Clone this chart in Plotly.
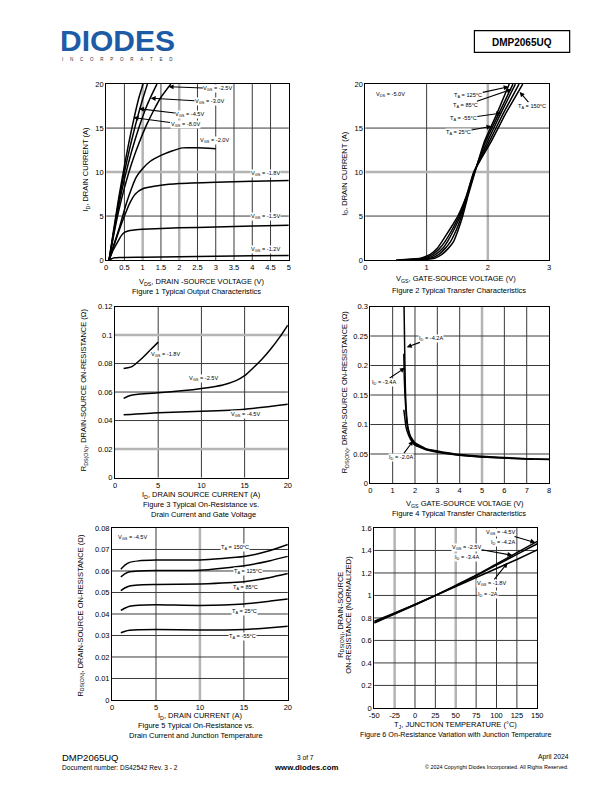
import plotly.graph_objects as go

PW, PH = 612, 792
FONT = "Liberation Sans, Arial, Helvetica, sans-serif"
GRID = "#3a3a3a"
GRAY = "#b4b4b4"

# ---------------- Figure 1: Typical Output Characteristics ----------------
f1_vds_8v0 = [0.08, 0.2, 0.35, 0.5, 0.6, 0.7, 0.8, 0.9, 1.01]
f1_id_8v0 = [0, 3.3, 7.2, 10.7, 12.9, 14.9, 16.8, 18.5, 20]
f1_vds_4v5 = [0.08, 0.2, 0.35, 0.5, 0.65, 0.8, 0.95, 1.13]
f1_id_4v5 = [0, 3.1, 6.8, 10.0, 12.8, 15.3, 17.6, 20]
f1_vds_3v0 = [0.08, 0.2, 0.35, 0.5, 0.7, 0.9, 1.1, 1.25, 1.39]
f1_id_3v0 = [0, 2.9, 6.3, 9.2, 12.4, 15.1, 17.4, 18.8, 20]
f1_vds_2v5 = [0.08, 0.2, 0.35, 0.5, 0.7, 0.9, 1.1, 1.3, 1.5, 1.77]
f1_id_2v5 = [0, 2.7, 5.7, 8.2, 11.0, 13.3, 15.3, 17.0, 18.5, 20]
f1_vds_2v0 = [0.08, 0.2, 0.37, 0.55, 0.7, 0.82, 1.0, 1.2, 1.5, 1.8, 2.1, 2.5, 3.0]
f1_id_2v0 = [0, 1.6, 3.8, 6.4, 8.2, 9.4, 10.4, 11.2, 11.9, 12.4, 12.75, 12.75, 12.65]
f1_vds_1v8 = [0.08, 0.2, 0.35, 0.5, 0.65, 0.8, 1.0, 1.5, 2.0, 3.0, 4.0, 5.0]
f1_id_1v8 = [0, 1.5, 3.3, 5.0, 6.5, 7.5, 8.1, 8.5, 8.7, 8.85, 8.95, 9.05]
f1_vds_1v5 = [0.08, 0.2, 0.32, 0.42, 0.5, 0.65, 0.82, 1.0, 2.0, 3.0, 4.0, 5.0]
f1_id_1v5 = [0, 1.2, 2.1, 2.8, 3.15, 3.35, 3.45, 3.5, 3.66, 3.76, 3.86, 3.95]
f1_vds_1v2 = [0.08, 0.15, 0.23, 0.35, 1.0, 2.0, 3.0, 4.0, 5.0]
f1_id_1v2 = [0, 0.15, 0.26, 0.3, 0.33, 0.38, 0.43, 0.48, 0.52]

# ---------------- Figure 2: Typical Transfer Characteristics ----------------
f2_id_levels = [0, 0.2, 0.64, 1.3, 2.1, 3.5, 5.0, 7.4, 10.0, 13.4, 16.5, 20]
f2_vgs_m55 = [0.8, 1.13, 1.25, 1.35, 1.44, 1.52, 1.59, 1.68, 1.79, 1.94, 2.14, 2.35]
f2_vgs_25 = [0.7, 1.07, 1.2, 1.3, 1.39, 1.49, 1.57, 1.67, 1.785, 1.96, 2.17, 2.41]
f2_vgs_85 = [0.6, 1.01, 1.15, 1.26, 1.34, 1.45, 1.55, 1.665, 1.78, 1.99, 2.2, 2.45]
f2_vgs_125 = [0.55, 0.95, 1.1, 1.21, 1.3, 1.42, 1.53, 1.66, 1.775, 2.02, 2.24, 2.51]
f2_vgs_150 = [0.5, 0.9, 1.06, 1.17, 1.25, 1.38, 1.51, 1.655, 1.77, 2.05, 2.28, 2.57]

# ---------------- Figure 3: On-Resistance vs Drain Current & Gate Voltage ----------------
f3_id_1v8 = [1, 1.5, 2, 3, 4, 5]
f3_r_1v8 = [0.0765, 0.077, 0.078, 0.083, 0.089, 0.095]
f3_id_2v5 = [1, 1.5, 2, 5, 8, 10, 12.5, 14, 15, 16, 17, 18, 19, 20]
f3_r_2v5 = [0.0555, 0.057, 0.058, 0.0595, 0.061, 0.0625, 0.065, 0.068, 0.0715, 0.077, 0.083, 0.090, 0.098, 0.107]
f3_id_4v5 = [1, 5, 10, 15, 20]
f3_r_4v5 = [0.044, 0.0455, 0.0465, 0.048, 0.0515]

# ---------------- Figure 4: RDS(ON) vs Gate-Source Voltage ----------------
f4_vgs_4a2 = [1.51, 1.53, 1.55, 1.57, 1.6, 1.65, 1.7, 1.8, 2.0, 2.5, 3, 4, 5, 6, 7, 8]
f4_r_4a2 = [0.3, 0.25, 0.2, 0.16, 0.13, 0.105, 0.092, 0.08, 0.069, 0.059, 0.055, 0.049, 0.046, 0.044, 0.042, 0.041]
f4_vgs_3a4 = [1.5, 1.52, 1.55, 1.6, 1.65, 1.7, 1.8, 2.0, 2.5, 3, 4, 5, 6, 7, 8]
f4_r_3a4 = [0.22, 0.18, 0.15, 0.12, 0.1, 0.09, 0.078, 0.067, 0.058, 0.054, 0.048, 0.045, 0.043, 0.0415, 0.0405]
f4_vgs_2a0 = [1.5, 1.55, 1.6, 1.7, 1.8, 2.0, 2.5, 3, 4, 5, 6, 7, 7.3]
f4_r_2a0 = [0.125, 0.11, 0.095, 0.083, 0.075, 0.065, 0.057, 0.053, 0.048, 0.045, 0.043, 0.042, 0.0415]

# ---------------- Figure 5: On-Resistance vs Drain Current & Temperature ----------------
f5_id = [1, 1.5, 2, 3, 5, 10, 15, 18, 20]
f5_r_150 = [0.0608, 0.0628, 0.0640, 0.0647, 0.0651, 0.0651, 0.0667, 0.0695, 0.0723]
f5_r_125 = [0.0573, 0.0588, 0.0596, 0.0600, 0.0602, 0.0603, 0.0624, 0.0648, 0.0668]
f5_r_85 = [0.0509, 0.0522, 0.0530, 0.0535, 0.0537, 0.0540, 0.0550, 0.0570, 0.0588]
f5_r_25 = [0.0417, 0.0428, 0.0436, 0.0441, 0.0443, 0.0440, 0.0447, 0.0460, 0.0470]
f5_r_m55 = [0.0313, 0.0320, 0.0324, 0.0327, 0.0328, 0.0325, 0.0328, 0.0336, 0.0343]

# ---------------- Figure 6: Normalized On-Resistance vs Junction Temperature ----------------
f6_tj = [-50, -25, 0, 25, 50, 75, 100, 125, 150]
f6_r_4v5 = [0.755, 0.835, 0.915, 1.0, 1.09, 1.18, 1.28, 1.38, 1.48]
f6_r_2v5 = [0.76, 0.84, 0.92, 1.0, 1.085, 1.175, 1.27, 1.365, 1.46]
f6_r_1v8 = [0.77, 0.845, 0.92, 1.0, 1.08, 1.16, 1.24, 1.32, 1.405]
f6_xtick_vals = [-50, -25, 0, 25, 50, 75, 100, 125, 150]
f6_xtick_text = ["-50", "-25", "0", "25", "50", "75", "100", "125", "150"]

fig = go.Figure()


def ax_ids(n):
    s = "" if n == 1 else str(n)
    return "x" + s, "y" + s


def curve(n, x, y, smooth=0.5):
    xa, ya = ax_ids(n)
    fig.add_trace(go.Scatter(
        x=x, y=y, mode="lines", xaxis=xa, yaxis=ya, showlegend=False,
        hoverinfo="skip",
        line=dict(color="black", width=1.5, shape="spline", smoothing=smooth)))


for xs, ys in [(f1_vds_8v0, f1_id_8v0), (f1_vds_4v5, f1_id_4v5), (f1_vds_3v0, f1_id_3v0),
               (f1_vds_2v5, f1_id_2v5), (f1_vds_2v0, f1_id_2v0), (f1_vds_1v8, f1_id_1v8),
               (f1_vds_1v5, f1_id_1v5), (f1_vds_1v2, f1_id_1v2)]:
    curve(1, xs, ys)

for vs in [f2_vgs_m55, f2_vgs_25, f2_vgs_85, f2_vgs_125, f2_vgs_150]:
    curve(2, vs, f2_id_levels, 0.4)

for xs, ys in [(f3_id_1v8, f3_r_1v8), (f3_id_2v5, f3_r_2v5), (f3_id_4v5, f3_r_4v5)]:
    curve(3, xs, ys)

for xs, ys in [(f4_vgs_4a2, f4_r_4a2), (f4_vgs_3a4, f4_r_3a4), (f4_vgs_2a0, f4_r_2a0)]:
    curve(4, xs, ys, 0.3)

for ys in [f5_r_150, f5_r_125, f5_r_85, f5_r_25, f5_r_m55]:
    curve(5, f5_id, ys)

for ys in [f6_r_4v5, f6_r_2v5, f6_r_1v8]:
    curve(6, f6_tj, ys)


# ---------------- axes ----------------
panels = {
    1: dict(xpx=(103, 289), ypx=(81, 259), xr=[0, 5], xd=0.5, yr=[0, 20], yd=5),
    2: dict(xpx=(367, 554), ypx=(81, 259), xr=[0, 3], xd=1, yr=[0, 20], yd=5),
    3: dict(xpx=(112, 288), ypx=(306, 479), xr=[0, 20], xd=5, yr=[0, 0.12], yd=0.02),
    4: dict(xpx=(372, 554), ypx=(306, 485), xr=[0, 8], xd=1, yr=[0, 0.3], yd=0.05),
    5: dict(xpx=(109, 288), ypx=(530, 704), xr=[0, 20], xd=5, yr=[0, 0.08], yd=0.01),
    6: dict(xpx=(376, 542), ypx=(530, 712), xr=[-50, 150], xd=25, yr=[0, 1.6], yd=0.2),
}

# grid lines drawn lighter/thicker in the datasheet
gray_v = {1: [1, 2], 2: [2], 4: [5], 5: [10], 6: [-25, 50]}
gray_h = {1: [10], 2: [10], 3: [0.1, 0.02]}

layout_axes = {}
shapes = []
for n, p in panels.items():
    s = "" if n == 1 else str(n)
    xa, ya = ax_ids(n)
    common = dict(showgrid=False, showline=True, mirror=True,
                  linecolor="black", linewidth=1, ticks="", zeroline=False,
                  tickfont=dict(family=FONT, size=7.5, color="black"), fixedrange=True)
    layout_axes["xaxis" + s] = dict(
        domain=[p["xpx"][0] / PW, p["xpx"][1] / PW], range=p["xr"], dtick=p["xd"],
        tick0=p["xr"][0], anchor="y" + s, **common)
    layout_axes["yaxis" + s] = dict(
        domain=[1 - p["ypx"][1] / PH, 1 - p["ypx"][0] / PH], range=p["yr"], dtick=p["yd"],
        tick0=0, anchor="x" + s, **common)
    k = 1
    while True:
        v = round(p["xr"][0] + k * p["xd"], 6)
        if v >= p["xr"][1] - 1e-9:
            break
        g = v in gray_v.get(n, [])
        shapes.append(dict(type="line", xref=xa, yref=ya + " domain", x0=v, x1=v, y0=0, y1=1,
                           line=dict(color=GRAY if g else GRID, width=2.5 if g else 1),
                           layer="below"))
        k += 1
    k = 1
    while True:
        v = round(p["yr"][0] + k * p["yd"], 6)
        if v >= p["yr"][1] - 1e-9:
            break
        g = v in gray_h.get(n, [])
        shapes.append(dict(type="line", xref=xa + " domain", yref=ya, x0=0, x1=1, y0=v, y1=v,
                           line=dict(color=GRAY if g else GRID, width=2.5 if g else 1),
                           layer="below"))
        k += 1

layout_axes["xaxis6"].update(tickmode="array", tickvals=f6_xtick_vals, ticktext=f6_xtick_text)

annotations = []


def P(px, py):
    return px / PW, 1 - py / PH


def ptext(px, py, text, size=7.5, anchor="center", bold=False, color="black", angle=0):
    x, y = P(px, py)
    t = "<b>%s</b>" % text if bold else text
    annotations.append(dict(xref="paper", yref="paper", x=x, y=y, text=t, showarrow=False,
                            xanchor=anchor, yanchor="middle", textangle=angle, borderpad=0,
                            font=dict(family=FONT, size=size, color=color)))


def label(n, x, y, text, head=None, size=5.6):
    xa, ya = ax_ids(n)
    a = dict(xref=xa, yref=ya, text=text, font=dict(family=FONT, size=size, color="black"),
             bgcolor="white", borderpad=0)
    if head is None:
        a.update(x=x, y=y, showarrow=False)
    else:
        a.update(x=head[0], y=head[1], ax=x, ay=y, axref=xa, ayref=ya, showarrow=True,
                 arrowhead=2, arrowsize=0.9, arrowwidth=1.1, arrowcolor="black")
    annotations.append(a)


VGS = "V<sub>GS</sub> = "
TA = "T<sub>A</sub> = "
IDL = "I<sub>D</sub> = "

label(1, 3.06, 19.5, VGS + "-2.5V", head=(1.71, 19.7))
label(1, 2.83, 18.0, VGS + "-3.0V", head=(1.22, 18.4))
label(1, 2.29, 16.5, VGS + "-4.5V", head=(0.90, 17.2))
label(1, 2.16, 15.4, VGS + "-8.0V", head=(0.75, 16.2))
label(1, 2.97, 13.6, VGS + "-2.0V")
label(1, 4.35, 9.8, VGS + "-1.8V")
label(1, 4.35, 4.9, VGS + "-1.5V")
label(1, 4.35, 1.2, VGS + "-1.2V")

label(2, 0.41, 18.8, "V<sub>DS</sub> = -5.0V")
label(2, 1.68, 18.7, TA + "125°C", head=(2.34, 19.7))
label(2, 1.63, 17.6, TA + "85°C", head=(2.39, 19.4))
label(2, 1.60, 16.1, TA + "-55°C", head=(2.22, 16.7))
label(2, 1.52, 14.5, TA + "25°C", head=(2.06, 15.2))
label(2, 2.72, 17.5, TA + "150°C", head=(2.52, 19.1))

label(3, 5.85, 0.086, VGS + "-1.8V")
label(3, 10.25, 0.0692, VGS + "-2.5V")
label(3, 15.1, 0.0439, VGS + "-4.5V")

label(4, 2.70, 0.246, IDL + "-4.2A", head=(1.63, 0.231))
label(4, 0.60, 0.172, IDL + "-3.4A", head=(1.55, 0.196))
label(4, 1.38, 0.0447, IDL + "-2.0A", head=(1.92, 0.0726))

label(5, 2.38, 0.0754, VGS + "-4.5V")
label(5, 13.97, 0.0708, TA + "150°C")
label(5, 15.5, 0.0596, TA + "125°C")
label(5, 15.2, 0.0521, TA + "85°C")
label(5, 15.05, 0.0412, TA + "25°C")
label(5, 14.86, 0.0294, TA + "-55°C")

label(6, 105.4, 1.56, VGS + "-4.5V", head=(147.6, 1.47))
label(6, 107.4, 1.47, IDL + "-4.2A")
label(6, 63.3, 1.43, VGS + "-2.5V", head=(119.5, 1.357))
label(6, 63.3, 1.34, IDL + "-3.4A")
label(6, 93.4, 1.108, VGS + "-1.8V", head=(113.5, 1.29))
label(6, 89.4, 1.005, IDL + "-2A")

RDS = "R<sub>DS(ON)</sub>, DRAIN-SOURCE ON-RESISTANCE (Ω)"
ptext(200, 280.7, "V<sub>DS</sub>, DRAIN -SOURCE VOLTAGE (V)")
ptext(195, 290.5, "Figure 1 Typical Output Characteristics")
ptext(83, 167, "I<sub>D</sub>, DRAIN CURRENT (A)", angle=-90)

ptext(459, 278.5, "V<sub>GS</sub>, GATE-SOURCE VOLTAGE (V)")
ptext(462, 290, "Figure 2 Typical Transfer Characteristics")
ptext(346, 171, "I<sub>D</sub>, DRAIN CURRENT (A)", angle=-90)

ptext(200, 496.5, "I<sub>D</sub>, DRAIN SOURCE CURRENT (A)")
ptext(200, 506, "Figure 3 Typical On-Resistance vs.")
ptext(202, 516, "Drain Current and Gate Voltage")
ptext(80, 390, RDS, angle=-90)

ptext(468, 505.5, "V<sub>GS</sub> GATE-SOURCE VOLTAGE (V)")
ptext(462, 515.5, "Figure 4 Typical Transfer Characteristics")
ptext(346, 392, RDS, angle=-90)

ptext(199, 720.5, "I<sub>D</sub>, DRAIN CURRENT (A)")
ptext(195, 730, "Figure 5 Typical On-Resistance vs.")
ptext(195, 740, "Drain Current and Junction Temperature")
ptext(77, 618, RDS, angle=-90)

ptext(459, 729, "T<sub>J</sub>, JUNCTION TEMPERATURE (°C)")
ptext(459, 739, "Figure 6 On-Resistance Variation with Junction Temperature", size=7.2)
ptext(342, 618, "R<sub>DS(ON)</sub>, DRAIN-SOURCE", angle=-90)
ptext(350, 618, "ON-RESISTANCE (NORMALIZED)", angle=-90)

# Header
ptext(55, 37, "DIODES", size=30, anchor="left", bold=True, color="#1d5ba6")
ptext(57, 56.5, "\u2002\u2002\u2002".join("INCORPORATED"), size=4.5, anchor="left", color="#333333")
shapes.append(dict(type="rect", xref="paper", yref="paper", x0=478 / PW, x1=575 / PW,
                   y0=1 - 49 / PH, y1=1 - 27 / PH, line=dict(color="black", width=1.2)))
ptext(526.5, 38.5, "DMP2065UQ", size=10, bold=True)

# Footer
ptext(57, 762, "DMP2065UQ", size=9.5, anchor="left")
ptext(57, 772, "Document number: DS42542 Rev. 3 - 2", size=6.6, anchor="left")
ptext(306, 762, "3 of 7", size=6.6)
ptext(306, 772, "<b>www.diodes.com</b>", size=7.8)
ptext(575, 762, "April 2024", size=6.8, anchor="right")
ptext(575, 772, "© 2024 Copyright Diodes Incorporated. All Rights Reserved.", size=5.4, anchor="right")

fig.update_layout(
    width=PW, height=PH, margin=dict(l=0, r=0, t=0, b=0, pad=0),
    paper_bgcolor="white", plot_bgcolor="white",
    font=dict(family=FONT, size=7.5, color="black"),
    showlegend=False, shapes=shapes, annotations=annotations, **layout_axes)

fig.write_html("out.html", config={"displayModeBar": False},
               post_script="document.body.style.margin='0';document.body.style.padding='0';")
